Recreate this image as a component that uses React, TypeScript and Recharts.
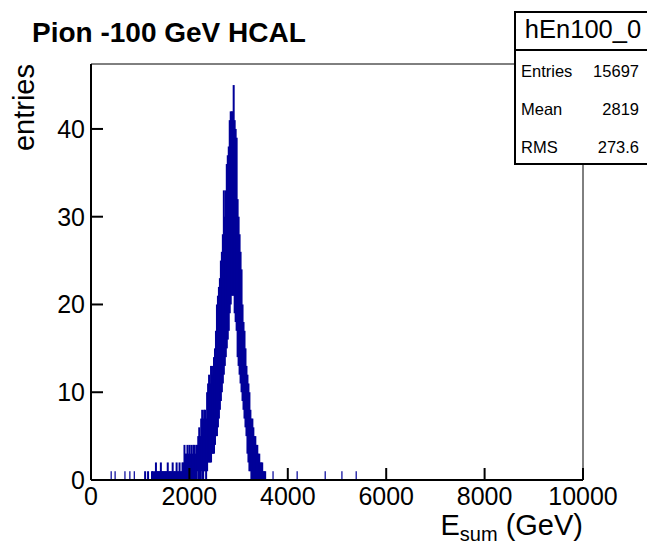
import { Bar, ComposedChart, ReferenceArea, XAxis, YAxis } from "recharts";

// histogram read column by column: each 20 GeV bin shows the min..max of the fine bins under it
const binStart = 1100;
const binWidth = 20;
const lowCounts = [
  0, 0, 0, 0, 0, 0, 0, 0, 0, 0,
  0, 0, 0, 0, 0, 0, 0, 0, 0, 0,
  0, 0, 0, 0, 0, 0, 0, 0, 0, 0,
  0, 0, 0, 0, 0, 0, 0, 0, 0, 0,
  0, 0, 0, 0, 0, 0, 0, 0, 0, 0,
  0, 0, 0, 1, 0, 0, 0, 1, 0, 0,
  1, 1, 0, 1, 2, 2, 2, 2, 3, 3,
  3, 4, 5, 5, 6, 7, 8, 9, 10, 11,
  12, 13, 14, 15, 16, 17, 19, 20, 21, 21,
  21, 19, 18, 17, 14, 13, 12, 11, 10, 9,
  8, 7, 6, 5, 3, 2, 1, 1, 0, 0,
  0, 0, 0, 0, 0, 0, 0, 0, 0, 0,
  0, 0, 0, 0, 0,
];
const highCounts = [
  1, 0, 0, 1, 0, 0, 0, 1, 1, 0,
  1, 2, 1, 1, 1, 1, 2, 1, 1, 1,
  1, 1, 1, 2, 1, 1, 1, 1, 2, 1,
  1, 1, 2, 1, 1, 2, 1, 1, 2, 2,
  4, 3, 3, 4, 3, 4, 3, 4, 3, 4,
  4, 3, 4, 4, 5, 6, 5, 7, 8, 7,
  8, 8, 7, 10, 11, 12, 11, 13, 12, 13,
  14, 15, 17, 20, 21, 22, 23, 25, 26, 28,
  33, 30, 33, 36, 37, 38, 41, 42, 42, 42,
  45, 41, 40, 39, 32, 30, 28, 26, 24, 20,
  18, 17, 15, 13, 12, 11, 10, 8, 7, 7,
  6, 5, 5, 4, 4, 3, 3, 2, 2, 2,
  1, 1, 1, 0, 0,
];
// lone single entries far from the peak
const isolatedEnergies = [410, 490, 690, 790, 880, 3700, 4190, 4760, 5100, 5390];
const isolatedCounts = [1, 1, 1, 1, 1, 1, 1, 1, 1, 1];

const xTicks = [0, 2000, 4000, 6000, 8000, 10000];
const yTicks = [0, 10, 20, 30, 40];
const statNames = ["Entries", "Mean", "RMS"];
const statValues = ["15697", "2819", "273.6"];

const yMax = 47.4;
const font = "'Liberation Sans', Arial, Helvetica, sans-serif";
const histColor = "#000099";

const table = [
  ...isolatedEnergies.map((e, i) => ({ energy: e, counts: [0, isolatedCounts[i]], lone: true })),
  ...highCounts.map((h, i) => ({ energy: binStart + i * binWidth, counts: [lowCounts[i], h], lone: false })),
]
  .filter((d) => d.counts[1] > d.counts[0])
  .sort((a, b) => a.energy - b.energy);

// recharts squeezes bars below 1px when bins are this dense, so draw each column ourselves
function Column(props: any) {
  const { x, y, width, height, payload } = props;
  if (height == null || Math.abs(height) < 0.01) return null;
  const cx = x + width / 2;
  const w = payload && payload.lone ? 1.2 : 2;
  const top = height < 0 ? y + height : y;
  return <rect x={cx - w / 2} y={top} width={w} height={Math.abs(height)} fill={histColor} />;
}

export default function App() {
  return (
    <div style={{ position: "absolute", left: 0, top: 0, width: 647, height: 546, background: "#fff" }}>
      <ComposedChart
        width={647}
        height={546}
        data={table}
        margin={{ top: 64, right: 64, bottom: 36, left: 51 }}
      >
        <ReferenceArea x1={0} x2={10000} y1={0} y2={yMax} fill="none" stroke="#000" strokeWidth={1} />
        <XAxis
          dataKey="energy"
          type="number"
          domain={[0, 10000]}
          ticks={xTicks}
          height={30}
          interval={0}
          tickSize={-12}
          tickMargin={19}
          axisLine={{ stroke: "#000", strokeWidth: 2 }}
          tickLine={{ stroke: "#000", strokeWidth: 2 }}
          tick={{ fill: "#000", fontSize: 25, fontFamily: font }}
        />
        <YAxis
          type="number"
          domain={[0, yMax]}
          ticks={yTicks}
          width={40}
          interval={0}
          tickSize={-12}
          tickMargin={18}
          axisLine={{ stroke: "#000", strokeWidth: 2 }}
          tickLine={{ stroke: "#000", strokeWidth: 2 }}
          tick={{ fill: "#000", fontSize: 25, fontFamily: font }}
        />
        <Bar dataKey="counts" fill={histColor} shape={<Column />} isAnimationActive={false} />
      </ComposedChart>
      <svg
        width={647}
        height={546}
        style={{ position: "absolute", left: 0, top: 0, pointerEvents: "none" }}
        fontFamily={font}
      >
        <text x={32} y={42} fontSize={28} fontWeight="bold" fill="#000">
          Pion -100 GeV HCAL
        </text>
        <text transform="translate(34,64) rotate(-90)" textAnchor="end" fontSize={29} fill="#000">
          entries
        </text>
        <text x={583} y={535} textAnchor="end" fontSize={29} fill="#000">
          E<tspan fontSize={20} dy={6}>sum</tspan>
          <tspan dy={-6}> (GeV)</tspan>
        </text>
        <rect x={515} y={12} width={140} height={152} fill="#fff" stroke="#000" strokeWidth={2} />
        <line x1={515} y1={50} x2={647} y2={50} stroke="#000" strokeWidth={2} />
        <text x={583} y={38} textAnchor="middle" fontSize={25.5} fill="#000">
          hEn100_0
        </text>
        {statNames.map((name, i) => (
          <g key={name}>
            <text x={521} y={77 + i * 38} fontSize={16.5} fill="#000">
              {name}
            </text>
            <text x={639} y={77 + i * 38} textAnchor="end" fontSize={16.5} fill="#000">
              {statValues[i]}
            </text>
          </g>
        ))}
      </svg>
    </div>
  );
}
